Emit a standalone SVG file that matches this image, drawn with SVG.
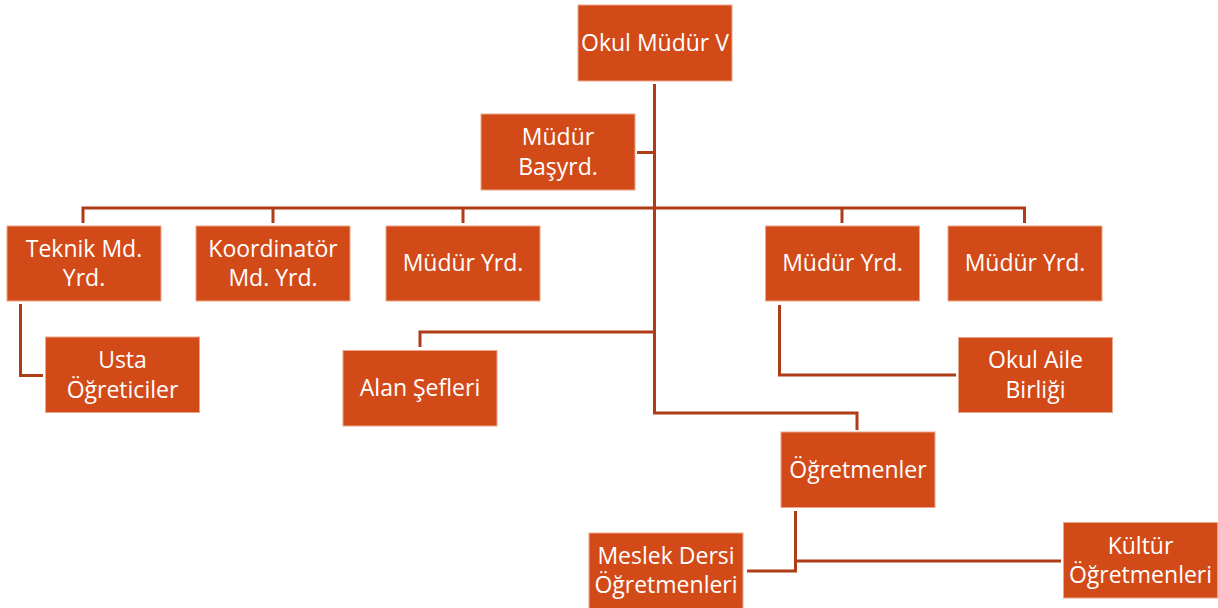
<svg xmlns="http://www.w3.org/2000/svg" width="1218" height="608" viewBox="0 0 1218 608">
<style>
.box{fill:#D34A19;stroke:#EBA58A;stroke-width:1}
.lbl{fill:#FFFFFF;font-family:"Open Sans","Noto Sans","Liberation Sans",sans-serif;font-size:23px;text-anchor:middle}
.con{fill:none;stroke:#AE3C17;stroke-width:3}
</style>
<rect width="1218" height="608" fill="#FFFFFF"/>
<g id="connectors">
<path class="con" d="M654.5 84 V413 H857 V430"/>
<path class="con" d="M637 152.5 H654.5"/>
<path class="con" d="M83 223 V208 H1024.5 V223"/>
<path class="con" d="M273 208 V223 M463 208 V223 M842 208 V223"/>
<path class="con" d="M654.5 332 H420 V347"/>
<path class="con" d="M20.5 304 V375.5 H43"/>
<path class="con" d="M779.5 305 V375 H956"/>
<path class="con" d="M795.5 511 V571 H747 M795.5 561 H1061"/>
</g>
<g id="okul-mudur">
<rect class="box" x="578" y="5" width="154" height="76"/>
<text class="lbl" x="655" y="51">Okul Müdür V</text>
</g>
<g id="mudur-basyrd">
<rect class="box" x="481" y="114" width="154" height="76"/>
<text class="lbl" x="558" y="145">Müdür</text>
<text class="lbl" x="558" y="174.5">Başyrd.</text>
</g>
<g id="teknik">
<rect class="box" x="7" y="226" width="154" height="75"/>
<text class="lbl" x="84" y="256.5">Teknik Md.</text>
<text class="lbl" x="84" y="286">Yrd.</text>
</g>
<g id="koordinator">
<rect class="box" x="196" y="226" width="154" height="75"/>
<text class="lbl" x="273" y="256.5">Koordinatör</text>
<text class="lbl" x="273" y="286">Md. Yrd.</text>
</g>
<g id="mudur-yrd-1">
<rect class="box" x="386" y="226" width="154" height="75"/>
<text class="lbl" x="463" y="271">Müdür Yrd.</text>
</g>
<g id="mudur-yrd-2">
<rect class="box" x="765.5" y="226" width="154" height="75"/>
<text class="lbl" x="842.5" y="271">Müdür Yrd.</text>
</g>
<g id="mudur-yrd-3">
<rect class="box" x="948" y="226" width="154" height="75"/>
<text class="lbl" x="1025" y="271">Müdür Yrd.</text>
</g>
<g id="usta">
<rect class="box" x="45.5" y="337" width="154" height="75.5"/>
<text class="lbl" x="122.5" y="368">Usta</text>
<text class="lbl" x="122.5" y="397.5">Öğreticiler</text>
</g>
<g id="alan-sefleri">
<rect class="box" x="343" y="350.5" width="154" height="75.5"/>
<text class="lbl" x="420" y="396">Alan Şefleri</text>
</g>
<g id="okul-aile">
<rect class="box" x="958.5" y="337.5" width="154" height="75"/>
<text class="lbl" x="1035.5" y="368">Okul Aile</text>
<text class="lbl" x="1035.5" y="397.5">Birliği</text>
</g>
<g id="ogretmenler">
<rect class="box" x="781" y="432" width="154" height="75.5"/>
<text class="lbl" x="858" y="478">Öğretmenler</text>
</g>
<g id="meslek">
<rect class="box" x="589" y="533" width="154" height="76"/>
<text class="lbl" x="666" y="563.5">Meslek Dersi</text>
<text class="lbl" x="666" y="593">Öğretmenleri</text>
</g>
<g id="kultur">
<rect class="box" x="1063.5" y="522.5" width="154" height="75.5"/>
<text class="lbl" x="1140.5" y="553.5">Kültür</text>
<text class="lbl" x="1140.5" y="583">Öğretmenleri</text>
</g>
</svg>
